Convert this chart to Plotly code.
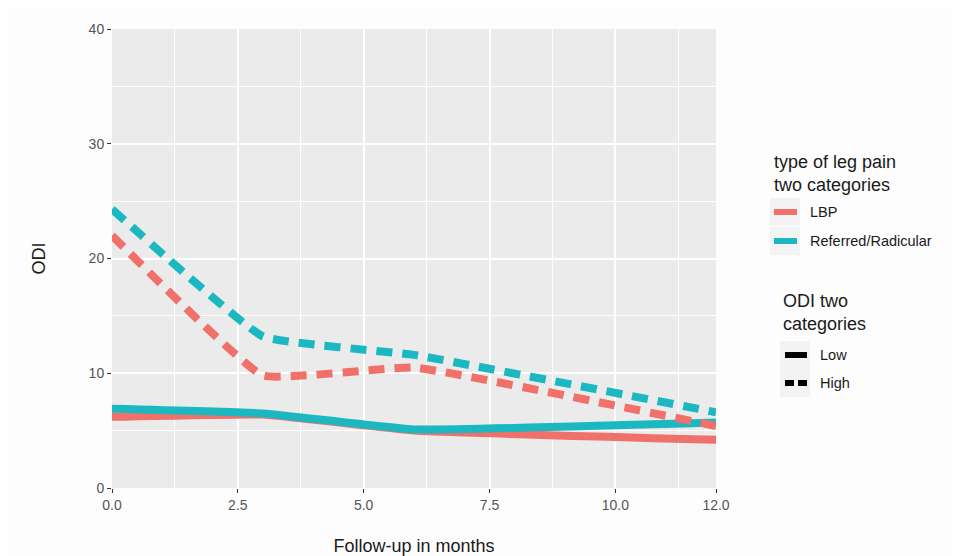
import plotly.graph_objects as go

months = [0, 3, 6, 12]
lbp_low = [6.2, 6.4, 5.0, 4.2]
ref_low = [6.9, 6.5, 5.1, 5.7]
lbp_high = [22.0, 9.8, 10.5, 5.4]
ref_high = [24.3, 13.2, 11.6, 6.6]

x_ticks = [0, 2.5, 5, 7.5, 10, 12]
x_tick_labels = ["0.0", "2.5", "5.0", "7.5", "10.0", "12.0"]
y_ticks = [0, 10, 20, 30, 40]

pain_title = "type of leg pain<br>two categories"
pain_names = ["LBP", "Referred/Radicular"]
odi_title = "ODI two<br>categories"
odi_names = ["Low", "High"]

RED = "#F0706A"
CYAN = "#1CB8C2"
DASH = "16px,10px"
LW = 8

W, H = 952, 548
ML, MR, MT, MB = 104, 244, 21, 68
PW, PH = W - ML - MR, H - MT - MB


def px(xp):  # page pixel -> paper x
    return (xp - 8 - ML) / PW


def py(yp):  # page pixel -> paper y
    return (H - MB + 8 - yp) / PH


fig = go.Figure()

series = [
    (lbp_low, RED, "solid"),
    (ref_low, CYAN, "solid"),
    (lbp_high, RED, DASH),
    (ref_high, CYAN, DASH),
]
for ys, col, dash in series:
    fig.add_trace(go.Scatter(
        x=months, y=ys, mode="lines",
        line=dict(color=col, width=LW, dash=dash, shape="spline", smoothing=0.3),
        showlegend=False, hoverinfo="skip"))

annotations = []
shapes = []
TXT = "#1a1a1a"
TITLE_SIZE = 18
ITEM_SIZE = 14.5

# legend 1
annotations.append(dict(x=px(772), y=py(173), xref="paper", yref="paper",
                        text=pain_title, showarrow=False, xanchor="left", yanchor="middle",
                        align="left", font=dict(size=TITLE_SIZE, color=TXT)))
for i, (name, col) in enumerate(zip(pain_names, [RED, CYAN])):
    yk = 212 + i * 29
    shapes.append(dict(type="rect", xref="paper", yref="paper",
                       x0=px(770), x1=px(800), y0=py(yk - 14), y1=py(yk + 14),
                       fillcolor="#f3f3f3", line=dict(width=0), layer="below"))
    shapes.append(dict(type="line", xref="paper", yref="paper",
                       x0=px(774), x1=px(797), y0=py(yk), y1=py(yk),
                       line=dict(color=col, width=6)))
    annotations.append(dict(x=px(808), y=py(yk), xref="paper", yref="paper",
                            text=name, showarrow=False, xanchor="left", yanchor="middle",
                            font=dict(size=ITEM_SIZE, color=TXT)))

# legend 2
annotations.append(dict(x=px(781), y=py(312), xref="paper", yref="paper",
                        text=odi_title, showarrow=False, xanchor="left", yanchor="middle",
                        align="left", font=dict(size=TITLE_SIZE, color=TXT)))
for i, (name, dash) in enumerate(zip(odi_names, ["solid", "9px,4px"])):
    yk = 355 + i * 28
    shapes.append(dict(type="rect", xref="paper", yref="paper",
                       x0=px(780), x1=px(810), y0=py(yk - 14), y1=py(yk + 14),
                       fillcolor="#f3f3f3", line=dict(width=0), layer="below"))
    shapes.append(dict(type="line", xref="paper", yref="paper",
                       x0=px(785), x1=px(807), y0=py(yk), y1=py(yk),
                       line=dict(color="black", width=6, dash=dash)))
    annotations.append(dict(x=px(818), y=py(yk), xref="paper", yref="paper",
                            text=name, showarrow=False, xanchor="left", yanchor="middle",
                            font=dict(size=ITEM_SIZE, color=TXT)))

fig.update_layout(
    width=W, height=H,
    paper_bgcolor="#fdfdfd",
    plot_bgcolor="#ebebeb",
    margin=dict(l=ML, r=MR, t=MT, b=MB, autoexpand=False),
    font=dict(family="Liberation Sans, Arial, sans-serif", color=TXT),
    showlegend=False,
    annotations=annotations,
    shapes=shapes,
    xaxis=dict(
        range=[0, 12], tickvals=x_ticks, ticktext=x_tick_labels,
        automargin=False,
        showgrid=True, gridcolor="white", gridwidth=1.6,
        zeroline=False, ticks="outside", ticklen=4, tickcolor="#333333",
        tickfont=dict(size=14, color="#555555"),
        minor=dict(dtick=1.25, tick0=0, showgrid=True, gridcolor="white", gridwidth=0.8),
        title=dict(text="Follow-up in months", font=dict(size=18, color=TXT), standoff=28),
    ),
    yaxis=dict(
        range=[0, 40], tickvals=y_ticks,
        automargin=False,
        showgrid=True, gridcolor="white", gridwidth=1.6,
        zeroline=False, ticks="outside", ticklen=4, tickcolor="#333333",
        tickfont=dict(size=14, color="#555555"),
        minor=dict(dtick=5, tick0=0, showgrid=True, gridcolor="white", gridwidth=0.8),
        title=dict(text="ODI", font=dict(size=18, color=TXT), standoff=38),
    ),
)

fig.write_html("out.html")
